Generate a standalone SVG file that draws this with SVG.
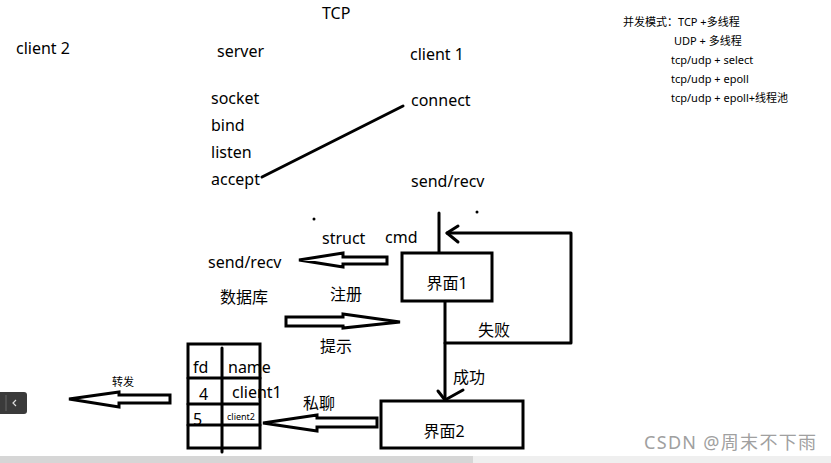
<svg xmlns="http://www.w3.org/2000/svg" width="831" height="463" viewBox="0 0 831 463">
<style>
text{font-family:"Noto Sans","Noto Sans CJK SC",sans-serif;fill:#000}
.t{font-size:16px}
.s{font-size:11px}
.box{fill:#fff;stroke:#000;stroke-width:3}
.ln{fill:none;stroke:#000;stroke-width:3;stroke-linecap:round;stroke-linejoin:round}
.ha{fill:#fff;stroke:#000;stroke-width:3;stroke-linejoin:miter}
</style>
<rect width="831" height="463" fill="#fff"/>
<g id="labels">
<text class="t" x="322" y="19">TCP</text>
<text class="t" x="16" y="54">client 2</text>
<text class="t" x="217" y="57">server</text>
<text class="t" x="410" y="60">client 1</text>
<text class="t" x="211" y="104">socket</text>
<text class="t" x="211" y="131">bind</text>
<text class="t" x="211" y="158">listen</text>
<text class="t" x="211" y="185">accept</text>
<text class="t" x="411" y="106">connect</text>
<text class="t" x="411" y="187">send/recv</text>
<text class="t" x="322" y="244">struct</text>
<text class="t" x="385" y="243">cmd</text>
<text class="t" x="208" y="268">send/recv</text>
<text class="t" x="220" y="303">数据库</text>
<text class="t" x="330" y="300">注册</text>
<text class="t" x="320" y="352">提示</text>
<text class="t" x="478" y="336">失败</text>
<text class="t" x="453" y="383">成功</text>
<text class="t" x="303" y="409">私聊</text>
<text class="s" x="112" y="386">转发</text>
<text class="s" x="623" y="26">并发模式：TCP +多线程</text>
<text class="s" x="674" y="45">UDP + 多线程</text>
<text class="s" x="671" y="64">tcp/udp + select</text>
<text class="s" x="671" y="83">tcp/udp + epoll</text>
<text class="s" x="671" y="102">tcp/udp + epoll+线程池</text>
<circle cx="314" cy="219" r="1.5" fill="#000"/>
<circle cx="477" cy="212" r="1.5" fill="#000"/>
</g>
<g id="connectors">
<line class="ln" x1="262" y1="177" x2="403" y2="106"/>
<line class="ln" x1="439" y1="213" x2="439" y2="253"/>
<polyline class="ln" points="445,301 445,400"/>
<polyline class="ln" points="438,391 445,400 463,390"/>
<polyline class="ln" points="445,343 571,343 571,233 447,233"/>
<polyline class="ln" points="458,226 447,233 458,242"/>
<polygon class="ha" points="387,257 343,257 343,253 299,260 343,267 343,264 387,264"/>
<polygon class="ha" points="286,317 343,317 343,314 400,322 343,328 343,326 286,326"/>
<polygon class="ha" points="377,418 317,418 317,415 263,423 317,431 317,427 377,427"/>
<polygon class="ha" points="170,395 119,395 119,392 69,399 119,407 119,403 170,403"/>
</g>
<g id="node-jiemian1">
<rect class="box" x="402" y="253" width="90" height="48"/>
<text class="t" x="447" y="289" text-anchor="middle">界面1</text>
</g>
<g id="node-jiemian2">
<rect class="box" x="381" y="401" width="142" height="47"/>
<text class="t" x="444" y="437" text-anchor="middle">界面2</text>
</g>
<g id="node-table">
<rect class="box" x="188" y="344" width="72" height="104"/>
<line class="ln" x1="222" y1="348" x2="222" y2="452" stroke-linecap="butt"/>
<line class="ln" x1="188" y1="378" x2="260" y2="378"/>
<line class="ln" x1="188" y1="404" x2="258" y2="404"/>
<line class="ln" x1="188" y1="425" x2="260" y2="425"/>
<text class="t" x="193" y="373">fd</text>
<text class="t" x="228" y="373">name</text>
<text class="t" x="199" y="400">4</text>
<text class="t" x="232" y="398">client1</text>
<text class="t" x="193" y="425">5</text>
<text style="font-size:9px" x="227" y="420">client2</text>
</g>
<g id="ui">
<rect x="0" y="456" width="473" height="7" fill="#d6d6d6"/>
<rect x="473" y="456" width="358" height="7" fill="#efefef"/>
<rect x="-4" y="392" width="31" height="22" rx="3" fill="#3a3a3a"/>
<line x1="6" y1="395" x2="6" y2="411" stroke="#666" stroke-width="1"/>
<polyline points="16,400 13,403 16,406" fill="none" stroke="#ddd" stroke-width="1.2"/>
<text x="644" y="449" textLength="172" style="font-size:18px;fill:#a0a0a0">CSDN @周末不下雨</text>
</g>
</svg>
